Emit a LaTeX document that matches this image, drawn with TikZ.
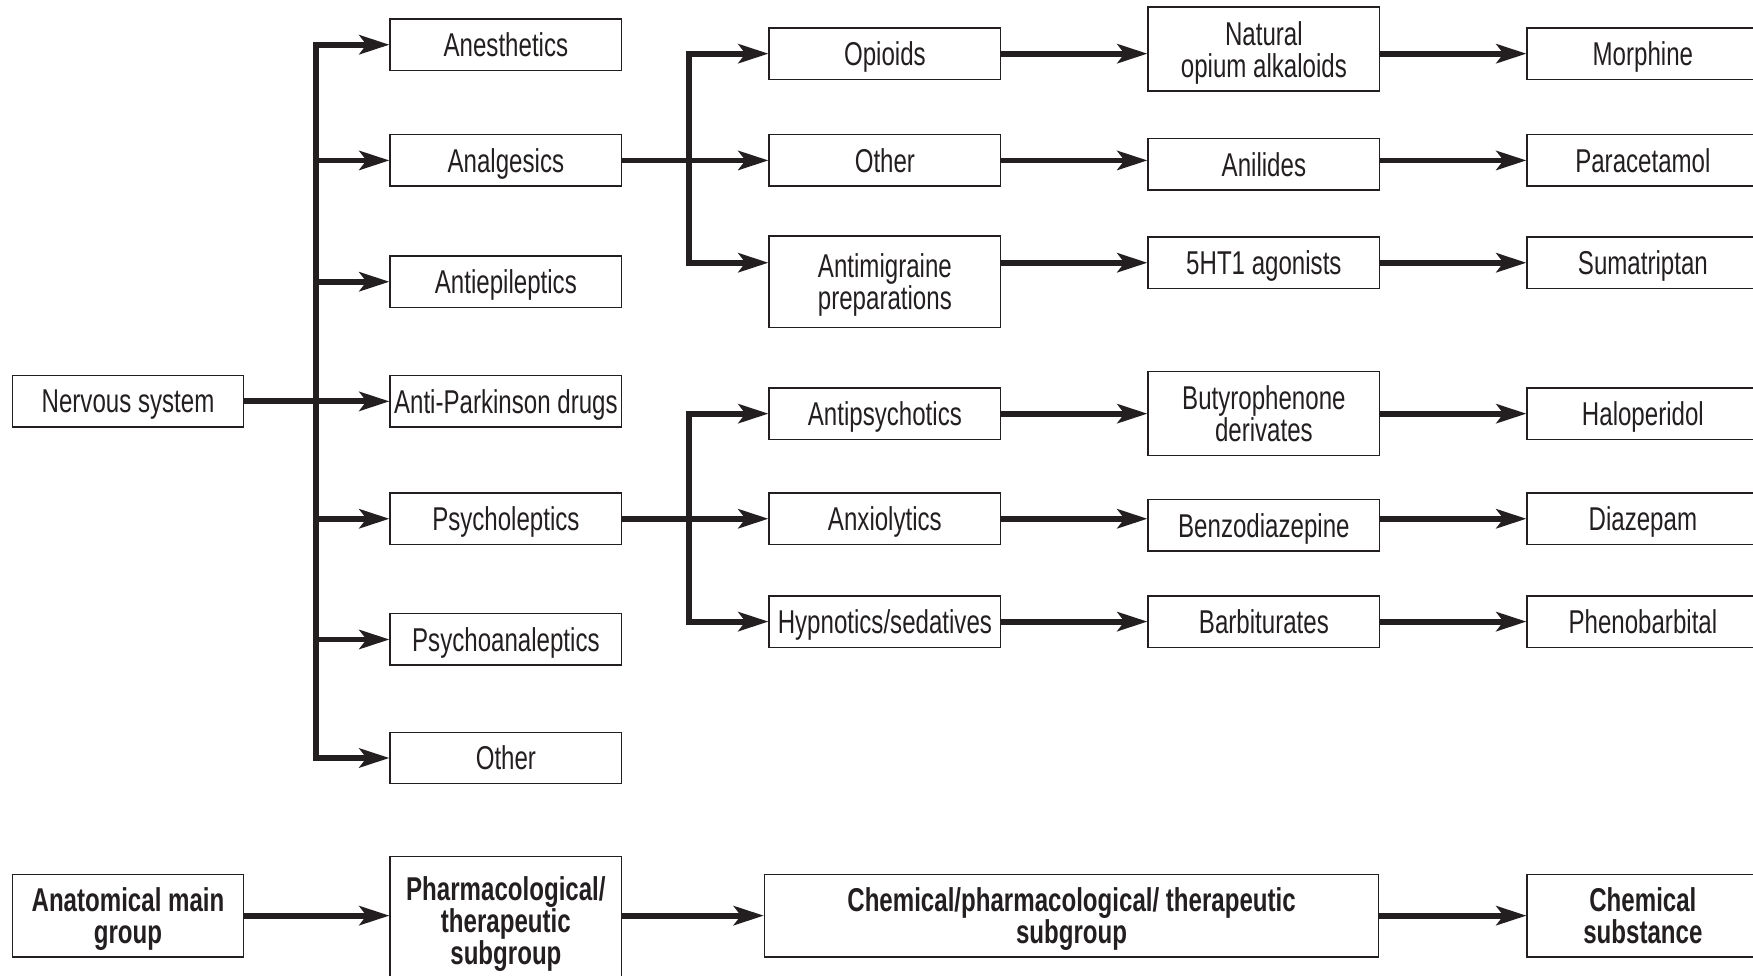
\documentclass[tikz,border=0pt]{standalone}
\usepackage{fontspec}
\setmainfont{Liberation Sans}[FakeStretch=0.73]
\usepackage{tikz}
\usetikzlibrary{arrows.meta}
\definecolor{ink}{RGB}{35,31,32}
\tikzset{
  box/.style = {draw=ink, text=ink, line width=0.7pt, minimum width=115.7pt,
    minimum height=25.7pt, inner sep=1pt, align=center, text depth=0pt,
    font=\fontsize{16.5pt}{16pt}\selectfont},
}

\begin{document}
\begin{tikzpicture}[
    x=0.559pt, y=-0.559pt,
    arr/.style={draw=ink, line width=2.9pt, -{Stealth[length=15pt, width=9.5pt, inset=3.5pt]}},
    tall/.style={box, minimum height=42pt},
    key/.style={box, minimum height=41.4pt, font=\fontsize{16.5pt}{16pt}\selectfont\bfseries},
    ]
    \useasboundingbox (0,0) rectangle (1568,873);
    \node[box] (ns) at (114.5,359) {Nervous system};
    \node[box] (anes) at (452.5,40) {Anesthetics};
    \node[box] (analg) at (452.5,143.5) {Analgesics};
    \node[box] (antiep) at (452.5,252) {Antiepileptics};
    \node[box] (park) at (452.5,359) {Anti-Parkinson drugs};
    \node[box] (psycholep) at (452.5,464) {Psycholeptics};
    \node[box] (psychoan) at (452.5,572) {Psychoanaleptics};
    \node[box] (other2) at (452.5,678) {Other};
    \node[box] (opioid) at (791.5,48) {Opioids};
    \node[box] (other3) at (791.5,143.5) {Other};
    \node[box, minimum height=45.8pt] (antimig) at (791.5,252) {Antimigraine\\preparations};
    \node[box] (antipsy) at (791.5,370) {Antipsychotics};
    \node[box] (anxio) at (791.5,464) {Anxiolytics};
    \node[box] (hypno) at (791.5,556) {Hypnotics/sedatives};
    \node[tall] (natural) at (1130.5,44) {Natural\\opium alkaloids};
    \node[box] (anil) at (1130.5,147) {Anilides};
    \node[box] (agon) at (1130.5,235) {5HT1 agonists};
    \node[tall] (butyro) at (1130.5,370) {Butyrophenone\\derivates};
    \node[box] (benzo) at (1130.5,470) {Benzodiazepine};
    \node[box] (barb) at (1130.5,556) {Barbiturates};
    \node[box] (morph) at (1469.5,48) {Morphine};
    \node[box] (parac) at (1469.5,143.5) {Paracetamol};
    \node[box] (sumat) at (1469.5,235) {Sumatriptan};
    \node[box] (halo) at (1469.5,370) {Haloperidol};
    \node[box] (diaz) at (1469.5,464) {Diazepam};
    \node[box] (pheno) at (1469.5,556) {Phenobarbital};
    \node[key] (anat) at (114.5,819) {Anatomical main\\group};
    \node[key, minimum height=63.7pt] (pharm) at (452.5,823) {Pharmacological/\\therapeutic\\subgroup};
    \node[key, minimum width=307pt] (chem) at (958.5,819) {Chemical/pharmacological/ therapeutic\\subgroup};
    \node[key] (subst) at (1469.5,819) {Chemical\\substance};
    \coordinate (jn) at (283,359);
    \coordinate (ja) at (616,143.5);
    \coordinate (jp) at (616,464);
    \draw[arr] (ns) -- (park);
    \foreach \n in {anes,analg,antiep,psycholep,psychoan,other2}
      \draw[arr] (jn) |- (\n);
    \draw[arr] (analg) -- (other3);
    \draw[arr] (ja) |- (opioid);
    \draw[arr] (ja) |- (antimig.west |- agon);
    \draw[arr] (psycholep) -- (anxio);
    \draw[arr] (jp) |- (antipsy);
    \draw[arr] (jp) |- (hypno);
    \draw[arr] (opioid) -- (natural.west |- opioid);
    \draw[arr] (other3) -- (anil.west |- other3);
    \draw[arr] (antimig.east |- agon) -- (agon);
    \draw[arr] (antipsy) -- (butyro);
    \draw[arr] (anxio) -- (benzo.west |- anxio);
    \draw[arr] (hypno) -- (barb);
    \draw[arr] (natural.east |- morph) -- (morph);
    \draw[arr] (anil.east |- parac) -- (parac);
    \draw[arr] (agon) -- (sumat);
    \draw[arr] (butyro) -- (halo);
    \draw[arr] (benzo.east |- diaz) -- (diaz);
    \draw[arr] (barb) -- (pheno);
    \draw[arr] (anat) -- (pharm.west |- anat);
    \draw[arr] (pharm.east |- chem) -- (chem);
    \draw[arr] (chem) -- (subst);
\end{tikzpicture}
\end{document}
